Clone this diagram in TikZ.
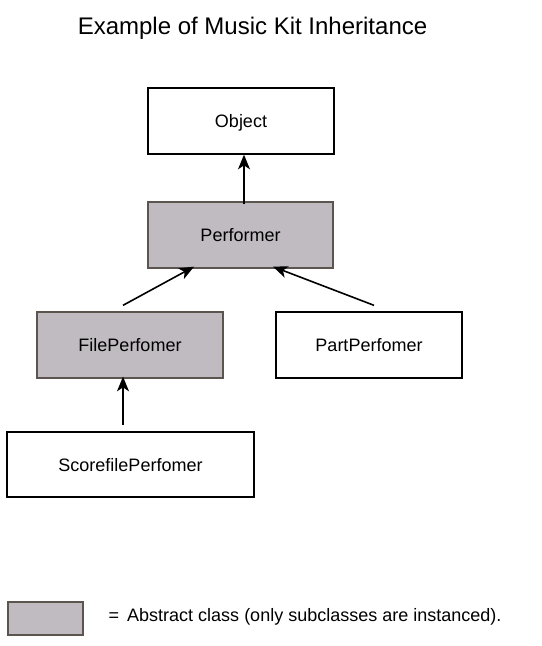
\documentclass[tikz,border=0pt]{standalone}
\usepackage{fontspec}
\setmainfont{Liberation Sans}
\usetikzlibrary{calc,arrows.meta}
\definecolor{abstractgray}{RGB}{192,186,193}
\definecolor{abstractline}{RGB}{92,84,79}

\begin{document}
\begin{tikzpicture}[x=0.75pt,y=-0.75pt,
	class/.style={draw=black,line width=1.5pt,minimum width=139pt,minimum height=49pt,inner sep=0pt,
		text height=10pt,text depth=0pt,font=\fontsize{13.5}{16}\selectfont},
	abstract/.style={class,draw=abstractline,fill=abstractgray},
	arr/.style={-{Stealth[length=11pt,width=9pt,inset=3pt]},line width=1.2pt}]
	%Rahmen
	\useasboundingbox (0,0) rectangle (542,646);
	% Titel
	\node[anchor=base,font=\fontsize{18}{22}\selectfont] (title) at (252.5,34.5) {Example of Music Kit Inheritance};
	% Klassen
	\node[class]    (obj)   at (241,121)   {Object};
	\node[abstract] (perf)  at (240.5,235) {Performer};
	\node[abstract] (file)  at (130,345)   {FilePerfomer};
	\node[class]    (part)  at (369,345)   {PartPerfomer};
	\node[class,minimum width=185pt] (score) at (130.5,464.5) {ScorefilePerfomer};
	% Vererbung
	\draw[arr] ($(perf.north)+(3.5,3)$) -- ($(obj.south)+(3,0)$);
	\draw[arr] ($(file.north)+(-7,-6)$) -- ($(perf.south)+(-46.5,-2)$);
	\draw[arr] ($(part.north)+(5,-6)$) -- ($(perf.south)+(32.5,-2)$);
	\draw[arr] ($(score.north)+(-7.5,-6)$) -- ($(file.south)+(-7,-2)$);
	% Legende
	\node[abstract,minimum width=56pt,minimum height=25pt] (legbox) at (45.5,618.5) {};
	\node[anchor=base west,font=\fontsize{13.5}{16}\selectfont] (legtext) at (104,621) {=\, Abstract class (only subclasses are instanced).};
\end{tikzpicture}
\end{document}
